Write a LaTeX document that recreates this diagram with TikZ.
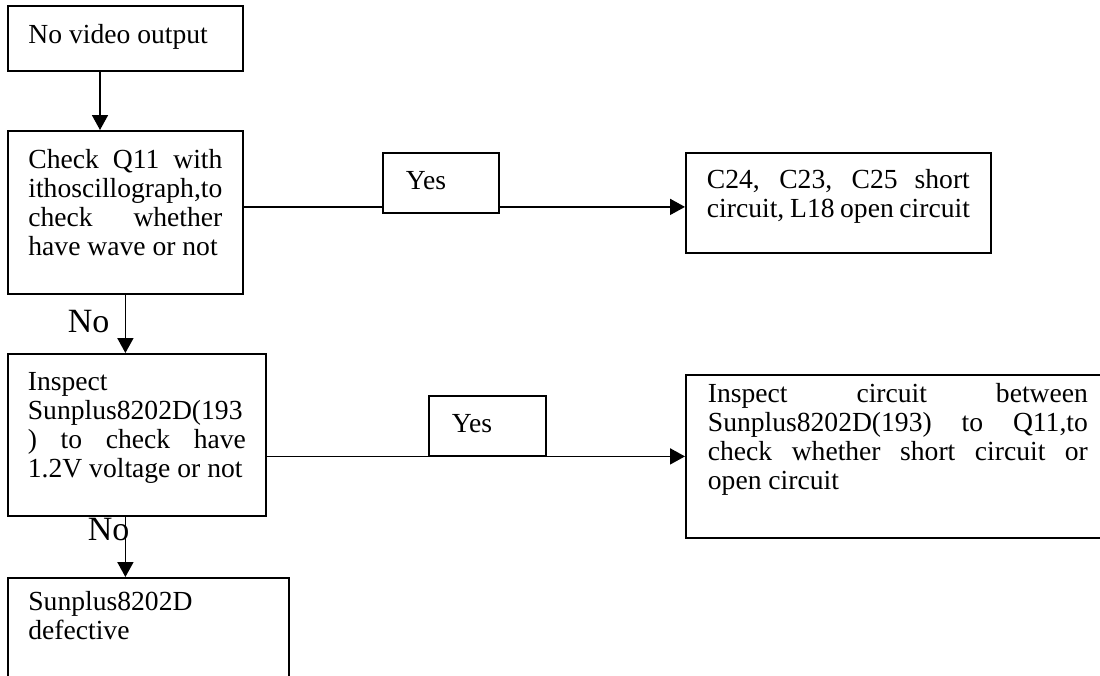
\documentclass[tikz,border=0pt]{standalone}
\usepackage{fontspec}
\setmainfont{Liberation Serif}
\usetikzlibrary{arrows.meta}

\newcommand{\boxtext}[4]{\parbox[c][#1][t]{#2}{\vspace*{#3}\strut #4}}
\newcommand{\jl}[1]{\makebox[\linewidth][s]{#1}}

\begin{document}
\begin{tikzpicture}[x=1pt,y=-1pt,line width=1.8pt,>={Triangle[length=15pt,width=16pt]},
    chart/.style={draw,anchor=north west,inner sep=0pt,font=\fontsize{27.6}{29}\selectfont},
    nolabel/.style={inner sep=0pt,anchor=base east,font=\fontsize{34}{36}\selectfont}]
    \clip (0,0) rectangle (1100,675);

    \node[chart,minimum width=235pt,minimum height=65pt] (novideo) at (7,5)
        {\boxtext{65pt}{194pt}{17.7pt}{No video output}};
    \node[chart,minimum width=235pt,minimum height=163pt] (check) at (7,130)
        {\boxtext{163pt}{194pt}{17.7pt}{\jl{Check Q11 with}\\ ithoscillograph,to\\ \jl{check whether}\\ have wave or not}};
    \node[chart,minimum width=258pt,minimum height=162pt] (inspect) at (7,353)
        {\boxtext{162pt}{218pt}{16.7pt}{Inspect\\ Sunplus8202D(193\\ \jl{) to check have}\\ 1.2V voltage or not}};
    \node[chart,minimum width=281pt,minimum height=130pt] (defect) at (7,577)
        {\boxtext{130pt}{240pt}{12.7pt}{Sunplus8202D\\ defective}};
    \node[chart,minimum width=116pt,minimum height=60pt] (yesA) at (382,152)
        {\boxtext{60pt}{70pt}{16.7pt}{Yes}};
    \node[chart,minimum width=117pt,minimum height=60pt] (yesB) at (428,395)
        {\boxtext{60pt}{71pt}{16.7pt}{Yes}};
    \node[chart,minimum width=305pt,minimum height=100pt] (repairA) at (685,152)
        {\boxtext{100pt}{263pt}{15.7pt}{\jl{C24, C23, C25 short}\\ circuit, L18 open circuit}};
    \node[chart,minimum width=424pt,minimum height=163pt] (repairB) at (685,374)
        {\boxtext{163pt}{380pt}{7.7pt}{\jl{Inspect circuit between}\\ \jl{Sunplus8202D(193) to Q11,to}\\ \jl{check whether short circuit or}\\ open circuit}};

    \draw[->] ([xshift=93pt]novideo.south west) -- ([xshift=93pt]check.north west);
    \draw[->] (check.south) -- (check.south |- inspect.north)
        node[nolabel,pos=0.65,xshift=-15pt] {No};
    \draw[->] (inspect.south -| check.south) -- (defect.north -| check.south)
        node[nolabel,pos=0.4,xshift=5pt] {No};

    \coordinate (lineA) at ([yshift=-4pt]repairA.west);
    \draw (check.east |- lineA) -- (yesA.west |- lineA);
    \draw[->] (yesA.east |- lineA) -- (lineA);
    \draw[->] (inspect.east |- repairB.west) -- (repairB.west);
\end{tikzpicture}
\end{document}
